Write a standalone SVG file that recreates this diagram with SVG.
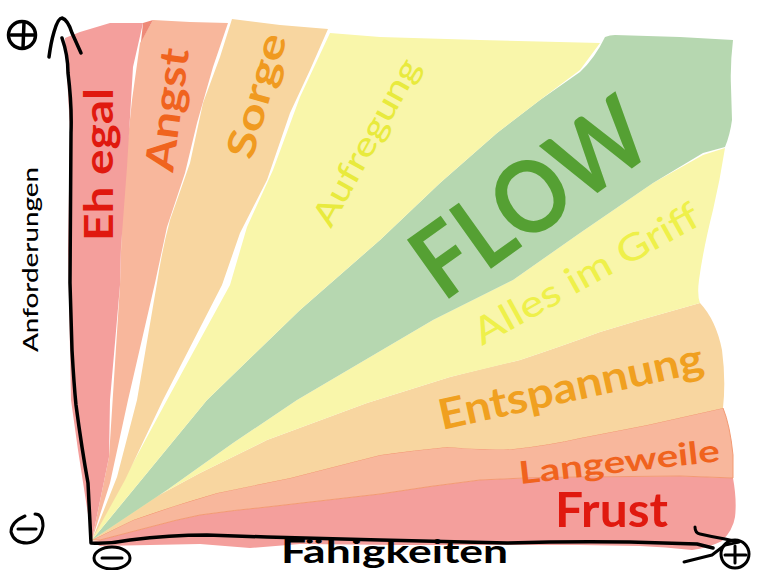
<svg xmlns="http://www.w3.org/2000/svg" width="760" height="570" viewBox="0 0 760 570">
<style>
text{font-family:"Lato","Noto Sans","Liberation Sans",sans-serif;}
.ax{fill:none;stroke:#000;stroke-linecap:round;stroke-linejoin:round;}
</style>
<rect width="760" height="570" fill="#fff"/>
<g id="zone-frust"><path fill="#f49f9c" d="M92 542L150 527Q175 520 200 515Q235 510 267 507L380 494Q430 486 480 480Q530 477 580 477L680 476L733 478Q737 500 735 517Q733 530 722 541Q708 548 692 550Q665 547 640 546L580 545L400 545L300 544L250 548L200 544L100 546Z"/>
<text x="555" y="527" font-size="48" font-weight="700" fill="#e0190f" textLength="113" lengthAdjust="spacingAndGlyphs">Frust</text></g>
<g id="zone-langeweile"><path fill="#f8b79c" stroke="#f39a73" stroke-width="1" d="M92 540L133 520Q175 505 217 493Q255 485 290 478L333 467L380 455Q415 450 447 447Q480 450 513 449Q550 445 580 438L647 425L723 408Q730 425 733 455L733 478L680 476L580 477Q530 477 480 480Q430 486 380 494L267 507Q235 510 200 515Q175 520 150 527L100 540Z"/>
<text x="520" y="484" font-size="31" font-weight="700" fill="#f0631e" textLength="202" lengthAdjust="spacingAndGlyphs" transform="rotate(-6.5 520 484)">Langeweile</text></g>
<g id="zone-entspannung"><path fill="#f8d6a0" d="M92 540L150 500L200 473L267 440L367 403L450 377Q490 367 520 360Q565 345 600 332L640 320L700 303Q716 320 722 350Q726 380 723 408L647 425L580 438Q550 445 513 449Q480 450 447 447Q415 450 380 455L333 467L290 478Q255 485 217 493Q175 505 133 520Z"/>
<text x="442" y="430" font-size="42" font-weight="700" fill="#f0a020" textLength="270" lengthAdjust="spacingAndGlyphs" transform="rotate(-12.5 442 430)">Entspannung</text></g>
<g id="zone-griff"><path fill="#f9f6aa" d="M92 540L167 490L233 443L297 400L433 320L513 280L580 233L653 183L703 155L725 148Q720 180 713 210Q703 250 699 280Q697 295 700 303L640 320L600 332Q565 345 520 360L450 377L367 403L267 440L200 473L150 500Z"/>
<text x="482" y="346" font-size="37" font-weight="500" fill="#eef04a" textLength="252" lengthAdjust="spacingAndGlyphs" transform="rotate(-29 482 346)">Alles im Griff</text></g>
<g id="zone-flow"><path fill="#b6d7b0" d="M92 540L207 400L300 310L380 240L440 183L497 133L540 100L580 72Q595 58 605 37Q610 35 615 35L680 37L733 40Q730 65 731 87L732 120Q730 135 725 147L703 153L653 183L580 233L513 280L433 320L297 400L233 443L167 490Z"/>
<text x="443" y="303" font-size="100" font-weight="700" fill="#55a033" textLength="264" lengthAdjust="spacingAndGlyphs" transform="rotate(-35.5 443 303)">FLOW</text></g>
<g id="zone-aufregung"><path fill="#f9f6aa" d="M92 540L120 487L167 400L230 285L247 227L273 170L300 97L330 33L380 37L480 40L600 43L580 70L540 100L497 133L440 183L380 240L300 310L207 400Z"/>
<text x="331" y="229" font-size="33" font-weight="500" fill="#e8ea3d" textLength="186" lengthAdjust="spacingAndGlyphs" transform="rotate(-61 331 229)">Aufregung</text></g>
<g id="zone-sorge"><path fill="#f8d6a0" d="M92 540L117 477L137 400L157 283Q162 250 170 220L190 163L203 103L220 57L232 19L280 25L328 29L310 70L290 113L267 180L240 233L222 285L163 400L125 480Z"/>
<text x="252" y="161" font-size="39" font-weight="700" fill="#f09a20" textLength="128" lengthAdjust="spacingAndGlyphs" transform="rotate(-74 252 161)">Sorge</text></g>
<g id="zone-angst"><path fill="#f8b79c" d="M92 540L109 457L120 285L123 187L132 100L140 43L153 20L190 22L228 23L213 67L197 123L185 173L167 227L155 283L128 400L110 483Z"/>
<path fill="#ee8a78" d="M143 23L153 20L141 42Z"/>
<text x="173" y="173" font-size="40" font-weight="700" fill="#f0631e" textLength="124" lengthAdjust="spacingAndGlyphs" transform="rotate(-82.5 173 173)">Angst</text></g>
<g id="zone-egal"><path fill="#f49f9c" d="M92 540L78 450L71 400L68 250L70 130L65 38L80 32L110 23L143 23L133 67L127 167L121 247L120 285L110 400L109 457Z"/>
<text x="113" y="241" font-size="40" font-weight="700" fill="#e0190f" textLength="153" lengthAdjust="spacingAndGlyphs" transform="rotate(-90 113 241)">Eh egal</text></g>
<g id="axes">
<path class="ax" stroke-width="3.5" d="M62 38Q68 55 68 73Q72 105 71 133L70 283L72 350Q74 385 76 405Q82 450 88 483L91 543Q110 544 130 540Q170 535 207 535Q240 536 267 537L380 540L507 543Q570 541 630 542L697 544L713 548"/>
<path class="ax" stroke-width="3.5" d="M49 57Q51 42 54 32Q58 18 62 18Q68 20 72 33L81 53"/>
<path class="ax" stroke-width="3" d="M695 527Q695 533 700 534Q713 537 725 539L739 542L725 545L712 555L684 562"/>
</g>
<g id="plus-y"><circle cx="22" cy="35" r="13.5" fill="none" stroke="#000" stroke-width="3.5"/><path class="ax" stroke-width="3.5" d="M11 35H34M24 22L23 48"/></g>
<g id="minus-y"><path class="ax" stroke-width="3" d="M25 516Q11 522 11 532Q14 543 27 543Q41 542 43 526Q43 514 35 514M18 529H36"/></g>
<g id="minus-x"><ellipse cx="112" cy="558" rx="18" ry="11" fill="none" stroke="#000" stroke-width="3"/><path class="ax" stroke-width="3" d="M102 558H122"/></g>
<g id="plus-x"><circle cx="735" cy="554" r="14" fill="none" stroke="#000" stroke-width="3"/><path class="ax" stroke-width="3" d="M725 555H746M735 546V563"/></g>
<g id="label-y"><text x="38" y="352" font-size="22" font-weight="500" fill="#000" textLength="185" lengthAdjust="spacingAndGlyphs" transform="rotate(-90 38 352)">Anforderungen</text></g>
<g id="label-x"><text x="281" y="563" font-size="33" font-weight="700" fill="#000" textLength="227" lengthAdjust="spacingAndGlyphs">Fähigkeiten</text></g>
</svg>
